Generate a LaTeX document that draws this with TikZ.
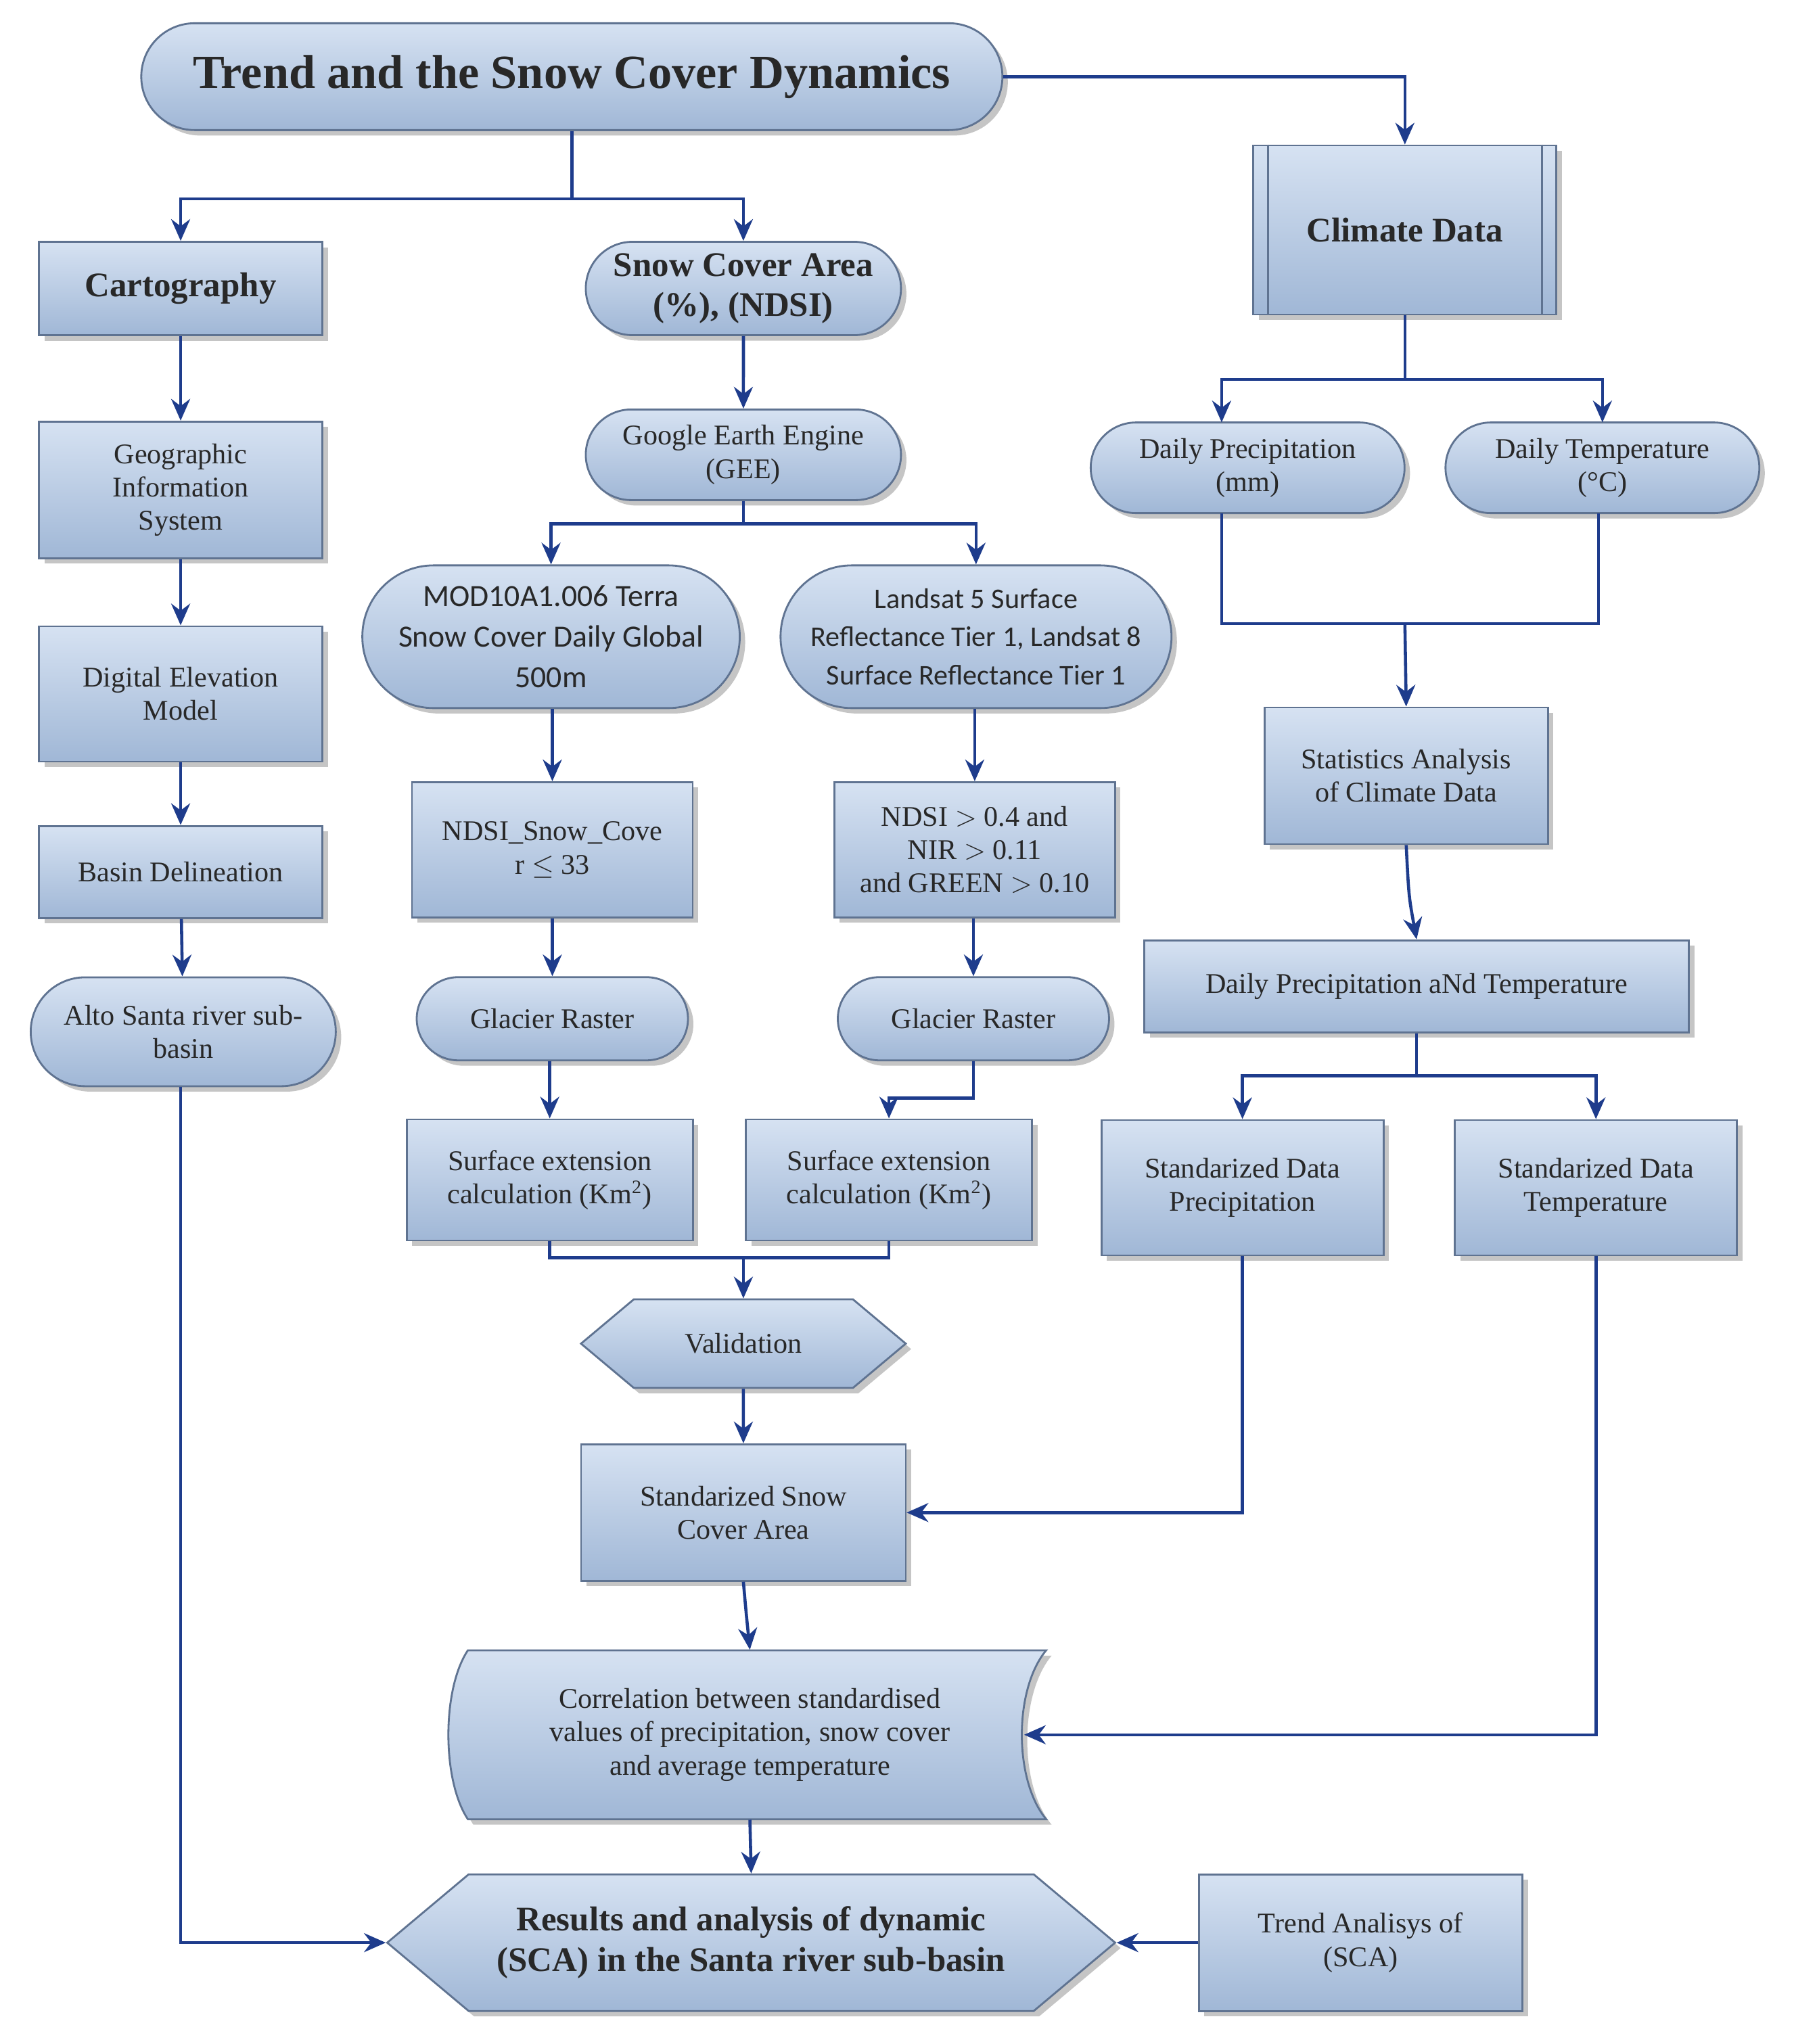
\documentclass[tikz,border=0pt]{standalone}
\usepackage{fontspec}
\setmainfont{Liberation Serif}
\newfontfamily\sansf{Carlito}
\usetikzlibrary{shapes.misc,shapes.symbols,shadows,arrows.meta}
\definecolor{bord}{RGB}{95,115,145}
\definecolor{arr}{RGB}{30,60,140}
\definecolor{ftop}{RGB}{214,226,242}
\definecolor{fbot}{RGB}{160,183,214}
\definecolor{txt}{RGB}{40,40,40}
\begin{document}
\begin{tikzpicture}[x=0.01921cm,y=-0.01921cm,
  base/.style={draw=bord,line width=0.8pt,top color=ftop,bottom color=fbot,
    drop shadow={shadow xshift=0.08cm,shadow yshift=-0.08cm,fill=black!45},
    text=txt,align=center,font=\fontsize{12}{14}\selectfont,inner sep=2pt},
  box/.style={base,rectangle},
  rbox/.style={base,rounded rectangle},
  hex/.style={base,signal,signal to=west and east,signal pointer angle=80},
  bf/.style={font=\fontsize{14.5}{17}\selectfont\bfseries},
  ar/.style={draw=arr,line width=1.3pt,-{Stealth[length=0.32cm,width=0.28cm]}},
  ln/.style={draw=arr,line width=1.3pt}]
\useasboundingbox (0,0) rectangle (1380,1573);
\fill[white] (0,0) rectangle (1380,1573);

\node[rbox,minimum width=12.87cm,minimum height=1.58cm,font=\fontsize{20}{24}\selectfont\bfseries] (title) at (440,59) {Trend and the Snow Cover Dynamics};
\node[box,bf,minimum width=4.48cm,minimum height=2.5cm] (cd) at (1081,177) {Climate Data};
\draw[bord,line width=0.8pt] ([xshift=0.23cm]cd.north west) -- ([xshift=0.23cm]cd.south west);
\draw[bord,line width=0.8pt] ([xshift=-0.23cm]cd.north east) -- ([xshift=-0.23cm]cd.south east);
\node[box,bf,minimum width=4.19cm,minimum height=1.38cm] (carto) at (139,222) {Cartography};
\node[rbox,bf,minimum width=4.8cm,minimum height=1.38cm] (sca) at (572,222) {Snow Cover Area\\(\%), (NDSI)};
\node[box,minimum width=4.19cm,minimum height=2.02cm] (gis) at (139,377) {Geographic\\Information\\System};
\node[rbox,minimum width=4.8cm,minimum height=1.34cm] (gee) at (572,350) {Google Earth Engine\\(GEE)};
\node[rbox,minimum width=4.78cm,minimum height=1.34cm] (dp) at (960,360) {Daily Precipitation\\(mm)};
\node[rbox,minimum width=4.78cm,minimum height=1.34cm] (dt) at (1233,360) {Daily Temperature\\(\textdegree C)};
\node[rbox,minimum width=5.72cm,minimum height=2.11cm,font=\sansf\fontsize{13}{17}\selectfont] (mod) at (424,490) {MOD10A1.006 Terra\\Snow Cover Daily Global\\500m};
\node[rbox,minimum width=5.92cm,minimum height=2.11cm,font=\sansf\fontsize{12}{16}\selectfont] (land) at (751,490) {Landsat 5 Surface\\Reflectance Tier 1, Landsat 8\\Surface Reflectance Tier 1};
\node[box,minimum width=4.19cm,minimum height=2.0cm] (dem) at (139,534) {Digital Elevation\\Model};
\node[box,minimum width=4.19cm,minimum height=2.02cm] (stat) at (1082,597) {Statistics Analysis\\of Climate Data};
\node[box,minimum width=4.15cm,minimum height=2.0cm] (ns) at (425,654) {NDSI\_Snow\_Cove\\r $\leq$ 33};
\node[box,minimum width=4.15cm,minimum height=2.0cm] (nd) at (750,654) {NDSI $>$ 0.4 and\\NIR $>$ 0.11\\and GREEN $>$ 0.10};
\node[box,minimum width=4.19cm,minimum height=1.36cm] (basin) at (139,671) {Basin Delineation};
\node[box,minimum width=8.05cm,minimum height=1.36cm] (dpt) at (1090,759) {Daily Precipitation aNd Temperature};
\node[rbox,minimum width=4.65cm,minimum height=1.61cm] (alto) at (141,794) {Alto Santa river sub-\\basin};
\node[rbox,minimum width=4.15cm,minimum height=1.23cm] (g1) at (425,784) {Glacier Raster};
\node[rbox,minimum width=4.15cm,minimum height=1.23cm] (g2) at (749,784) {Glacier Raster};
\node[box,minimum width=4.17cm,minimum height=2.0cm] (sp) at (956,914) {Standarized Data\\Precipitation};
\node[box,minimum width=4.17cm,minimum height=2.0cm] (st) at (1228,914) {Standarized Data\\Temperature};
\node[box,minimum width=4.23cm,minimum height=1.79cm] (s1) at (423,908) {Surface extension\\calculation (Km\textsuperscript{2})};
\node[box,minimum width=4.23cm,minimum height=1.79cm] (s2) at (684,908) {Surface extension\\calculation (Km\textsuperscript{2})};
\node[hex,minimum width=4.8cm,minimum height=1.31cm] (val) at (572,1034) {Validation};
\node[box,minimum width=4.8cm,minimum height=2.02cm] (ssca) at (572,1164) {Standarized Snow\\Cover Area};
\path[base] (360,1270) -- (805,1270) .. controls (780,1300) and (780,1370) .. (805,1400) -- (360,1400) .. controls (340,1370) and (340,1300) .. (360,1270) -- cycle;
\node[align=center,text=txt,font=\fontsize{12}{14}\selectfont,minimum width=8.4cm,minimum height=2.5cm] (corr) at (577,1335) {Correlation between standardised\\values of precipitation, snow cover\\and average temperature};
\coordinate (corrR) at (788,1335);
\node[hex,bf,minimum width=10.76cm,minimum height=2.02cm] (res) at (578,1495) {Results and analysis of dynamic\\(SCA) in the Santa river sub-basin};
\node[box,minimum width=4.78cm,minimum height=2.02cm] (trend) at (1047,1495) {Trend Analisys of\\(SCA)};

% connectors
\draw[ln] (title.south) -- (440,153) coordinate (j1);
\draw[ar] (j1) -| (carto.north);
\draw[ar] (j1) -| (sca.north);
\draw[ar] (title.east) -| (cd.north);
\draw[ar] (carto) -- (gis);
\draw[ar] (gis) -- (dem);
\draw[ar] (dem) -- (basin);
\draw[ar] (basin) -- (alto);
\draw[ar] (alto.south -| 139,0) |- (res.west);
\draw[ar] (sca) -- (gee);
\draw[ln] (gee.south) -- (572,403) coordinate (j2);
\draw[ar] (j2) -| (mod.north);
\draw[ar] (j2) -| (land.north);
\draw[ar] (mod.south -| ns.north) -- (ns.north);
\draw[ar] (land.south -| nd.north) -- (nd.north);
\draw[ar] (ns) -- (g1);
\draw[ar] (nd.south -| g2.north) -- (g2.north);
\draw[ar] (g1.south -| s1.north) -- (s1.north);
\draw[ar] (g2.south) -- (749,845) -| (s2.north);
\draw[ln] (s1.south) -- (423,968) -| (s2.south);
\draw[ar] (572,968) -- (val.north);
\draw[ar] (val) -- (ssca);
\draw[ar] (ssca.south) .. controls (574,1240) .. (corr.north);
\draw[ar] (corr.south) -- (res.north);
\draw[ar] (trend) -- (res.east);
\draw[ln] (cd.south) -- (1081,292) coordinate (j3);
\draw[ar] (j3) -| (940,325);
\draw[ar] (j3) -| (1233,325);
\draw[ln] (940,395) -- (940,480) -- (1230,480) -- (1230,395);
\draw[ar] (1081,480) -- (stat.north);
\draw[ar] (stat.south) .. controls (1084,690) .. (dpt.north);
\draw[ln] (dpt.south) -- (1090,828) coordinate (j4);
\draw[ar] (j4) -| (sp.north);
\draw[ar] (j4) -| (st.north);
\draw[ar] (sp.south) |- (ssca.east);
\draw[ar] (st.south) |- (corrR);
\end{tikzpicture}
\end{document}
